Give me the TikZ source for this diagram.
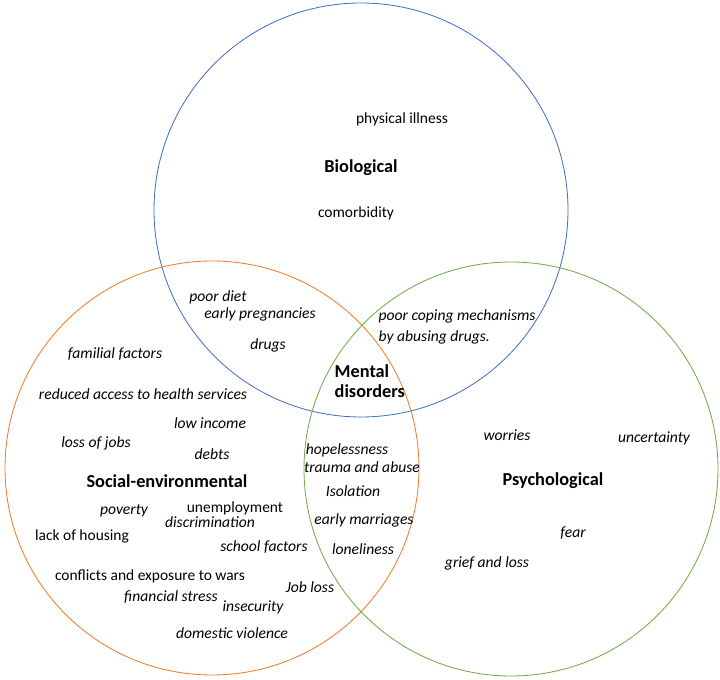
\documentclass[tikz,border=0pt]{standalone}
\usepackage{fontspec}
\setmainfont{Carlito}
\usetikzlibrary{calc}
\usepackage{tkz-euclide}
\definecolor{BlueClr}{RGB}{68,114,196}
\definecolor{OrangeClr}{RGB}{237,125,49}
\definecolor{GreenClr}{RGB}{112,173,71}

\tikzset{
  factor/.style={inner sep=1pt,font=\fontsize{11.1}{12.6}\selectfont\itshape},
  plainfactor/.style={inner sep=1pt,font=\fontsize{11}{12.6}\selectfont},
  sphere/.style={inner sep=1pt,font=\fontsize{13}{14.6}\selectfont\bfseries}
}

\begin{document}
\begin{tikzpicture}
\useasboundingbox (0,0) rectangle (18,17);
\tkzSetUpLine[line width=0.6pt,color=black]

\tkzDefPoints{9.025/11.75/B,9.025/16.925/Bt,5.3/5.3/S,0.125/5.3/St,12.775/5.275/P,17.95/5.275/Pt}

\tkzDrawCircle[color=BlueClr,line width=0.6pt](B,Bt)
\tkzDrawCircle[color=OrangeClr,line width=0.6pt](S,St)
\tkzDrawCircle[color=GreenClr,line width=0.6pt](P,Pt)

% biological
\node[plainfactor] (illness) at (10.05,14.025) {physical illness};
\node[sphere] (bio) at (9.025,12.8) {Biological};
\node[plainfactor] (comorb) at (8.9,11.675) {comorbidity};

% biological and social
\node[factor] (diet) at (5.45,9.575) {poor diet};
\node[factor] (pregn) at (6.5,9.15) {early pregnancies};
\node[factor] (drugs) at (6.7,8.375) {drugs};

% social-environmental
\node[factor] (familial) at (2.875,8.15) {familial factors};
\node[factor] (access) at (3.575,7.15) {reduced access to health services};
\node[factor] (income) at (5.25,6.425) {low income};
\node[factor] (jobs) at (2.4,5.925) {loss of jobs};
\node[factor] (debts) at (5.3,5.65) {debts};
\node[sphere] (social) at (4.175,4.975) {Social-environmental};
\node[factor] (poverty) at (3.1,4.225) {poverty};
\node[plainfactor] (unempl) at (5.875,4.3) {unemployment};
\node[factor] (discrim) at (5.25,3.95) {discrimination};
\node[plainfactor] (housing) at (2.05,3.6) {lack of housing};
\node[factor] (school) at (6.6,3.325) {school factors};
\node[plainfactor] (wars) at (3.75,2.6) {conflicts and exposure to wars};
\node[factor] (jobloss) at (7.75,2.325) {Job loss};
\node[factor] (stress) at (4.275,2.075) {financial stress};
\node[factor] (insec) at (6.325,1.825) {insecurity};
\node[factor] (violence) at (5.8,1.175) {domestic violence};

% biological and psychological
\node[factor,anchor=west] (coping) at (9.425,9.1) {poor coping mechanisms};
\node[factor,anchor=west] (abusing) at (9.425,8.575) {by abusing drugs.};

% centre
\node[sphere,anchor=west,align=left] (mental) at (8.325,7.475) {Mental\\disorders};

% social and psychological
\node[factor] (hopeless) at (8.675,5.75) {hopelessness};
\node[factor] (trauma) at (9.05,5.325) {trauma and abuse};
\node[factor] (isol) at (8.825,4.725) {Isolation};
\node[factor] (marriage) at (9.1,4.0) {early marriages};
\node[factor] (lonely) at (9.075,3.275) {loneliness};

% psychological
\node[factor] (worries) at (12.675,6.125) {worries};
\node[factor] (uncert) at (16.35,6.05) {uncertainty};
\node[sphere] (psych) at (13.825,4.975) {Psychological};
\node[factor] (fear) at (14.325,3.675) {fear};
\node[factor] (grief) at (12.175,2.925) {grief and loss};

\end{tikzpicture}
\end{document}
